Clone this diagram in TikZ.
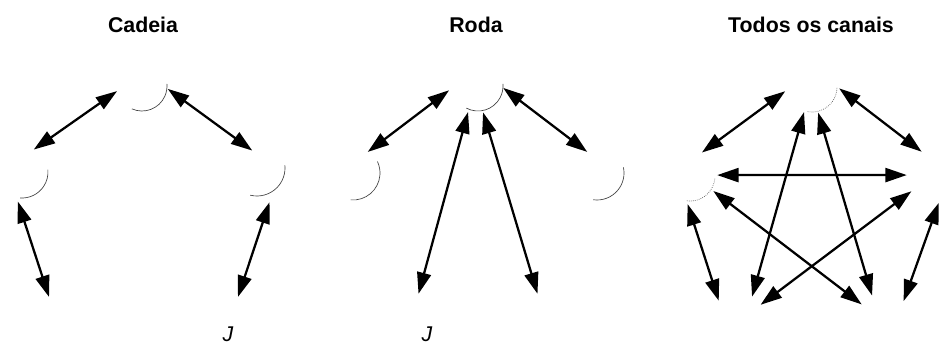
\documentclass[tikz,border=0pt]{standalone}
\usepackage{fontspec}
\setmainfont{Liberation Sans}
\usetikzlibrary{arrows.meta}

\begin{document}
\begin{tikzpicture}[
        x=0.75pt, y=-0.75pt,
        person/.style={circle, minimum size=40.5pt, inner sep=0pt},
        arrow/.style={{Triangle[length=16pt,width=10.5pt]}-{Triangle[length=16pt,width=10.5pt]}, line width=1.7pt},
        face/.style={black!75, line width=0.5pt},
        title/.style={font=\bfseries\fontsize{16}{19}\selectfont, anchor=base},
        jlabel/.style={font=\itshape\fontsize{16}{19}\selectfont, anchor=base}
    ]
        \useasboundingbox (0,0) rectangle (944,344);

        % Cadeia
        \node[title] (tcad) at (143,32) {Cadeia};
        \node[person] (c1) at (142,80) {};
        \node[person] (c2) at (24,175) {};
        \node[person] (c3) at (262,176) {};
        \node[person] (c4) at (57,323) {};
        \node[person] (c5) at (230,323) {};
        \draw[face] (142,86) ++(114:25) arc[start angle=114, end angle=-5, radius=25];
        \draw[face] (22,172) ++(94:26) arc[start angle=94, end angle=-5, radius=26];
        \draw[face] (257,168) ++(104:28) arc[start angle=104, end angle=-6, radius=28];
        \node[jlabel] (jcad) at (228,341) {J};

        \draw[arrow] (c1.204) -- (c2.69);
        \draw[arrow] (c1.341) -- (c3.111);
        \draw[arrow] (c2.257) -- (c4.107);
        \draw[arrow] (c3.286) -- (c5.73);

        % Roda
        \node[title] (trod) at (476,32) {Roda};
        \node[person] (r1) at (476,86) {};
        \node[person] (r2) at (355,176) {};
        \node[person] (r3) at (600,176) {};
        \node[person] (r4) at (411,320) {};
        \node[person] (r5) at (545,320) {};
        \draw[face] (478,86) ++(118:25) arc[start angle=118, end angle=-5, radius=25];
        \draw[face] (353,173) ++(95:27) arc[start angle=95, end angle=-25, radius=27];
        \draw[face] (597,173) ++(98:27) arc[start angle=98, end angle=-12, radius=27];
        \node[jlabel] (jrod) at (427,341) {J};

        \draw[arrow] (r1.189) -- (r2.62);
        \draw[arrow] (r1.356) -- (r3.118);
        \draw[arrow] (r1.253) -- (r4.74);
        \draw[arrow] (r1.285) -- (r5.106);

        % Todos os canais
        \node[title] (ttod) at (811,32) {Todos os canais};
        \node[person] (t1) at (812,86) {};
        \node[person] (t2) at (690,177) {};
        \node[person] (t3) at (934,176) {};
        \node[person] (t4) at (738,320) {};
        \node[person] (t5) at (884,320) {};
        \draw[face, densely dotted] (812,87) ++(100:25) arc[start angle=100, end angle=0, radius=25];
        \draw[face, densely dotted] (690,176) ++(97:25) arc[start angle=97, end angle=5, radius=25];

        \draw[arrow] (t1.191) -- (t2.64);
        \draw[arrow] (t1.355) -- (t3.117);
        \draw[arrow] (t2.4) -- (t3.178);
        \draw[arrow] (t2.265) -- (t4.135);
        \draw[arrow] (t3.280) -- (t5.44);
        \draw[arrow] (t1.253) -- (t4.59);
        \draw[arrow] (t1.283) -- (t5.116);
        \draw[arrow] (t2.329) -- (t5.145);
        \draw[arrow] (t3.214) -- (t4.34);
    \end{tikzpicture}
\end{document}
